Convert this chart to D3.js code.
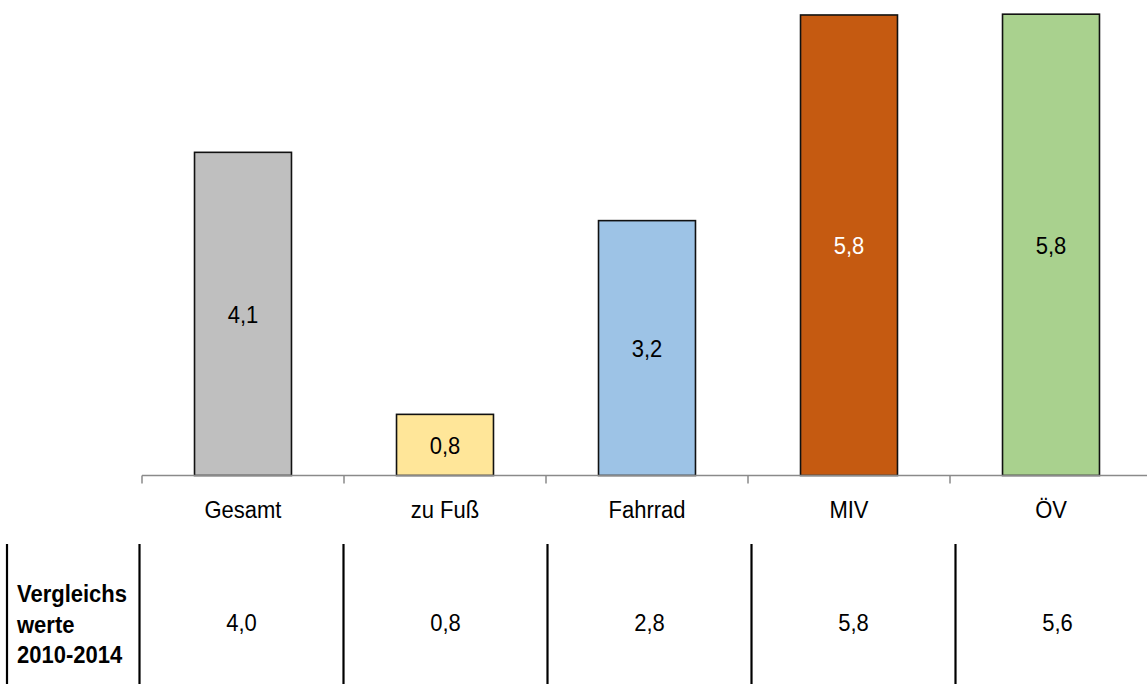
<!DOCTYPE html>
<html>
<head>
<meta charset="utf-8">
<script src="https://cdn.jsdelivr.net/npm/d3@7"></script>
<style>
  html, body { margin: 0; padding: 0; background: #fff; }
  svg { display: block; }
  text { font-family: "Liberation Sans", Arial, sans-serif; }
</style>
</head>
<body>
<svg id="chart" width="1147" height="684"></svg>
<script>
const categories = ["Gesamt", "zu Fuß", "Fahrrad", "MIV", "ÖV"];
const values = [4.07, 0.77, 3.21, 5.80, 5.81];
const barLabels = ["4,1", "0,8", "3,2", "5,8", "5,8"];
const barColors = ["#bfbfbf", "#ffe699", "#9dc3e6", "#c55a11", "#a9d18e"];
const labelColors = ["#000", "#000", "#000", "#fff", "#000"];
const compareTitle = ["Vergleichs", "werte", "2010-2014"];
const compareValues = ["4,0", "0,8", "2,8", "5,8", "5,6"];

const svg = d3.select("#chart");
const baseline = 475.5;
const unit = 79.4;
const sy = 1.1; // vertical stretch of text

const x = d3.scaleBand().domain(categories).range([142, 1152])
  .paddingInner(0.52).paddingOuter(0.26);
const y = d3.scaleLinear().domain([0, 6]).range([baseline, baseline - 6 * unit]);

// bars
svg.selectAll("rect.bar").data(categories).enter().append("rect")
  .attr("class", "bar")
  .attr("x", d => x(d))
  .attr("width", x.bandwidth())
  .attr("y", (d, i) => y(values[i]))
  .attr("height", (d, i) => y(0) - y(values[i]))
  .attr("fill", (d, i) => barColors[i])
  .attr("stroke", "#111")
  .attr("stroke-width", 1.6);

// bar labels
svg.selectAll("text.val").data(categories).enter().append("text")
  .attr("class", "val")
  .attr("transform", (d, i) => `translate(${x(d) + x.bandwidth() / 2},${(y(values[i]) + y(0)) / 2 + 9}) scale(1,${sy})`)
  .attr("text-anchor", "middle")
  .attr("font-size", 22)
  .attr("fill", (d, i) => labelColors[i])
  .text((d, i) => barLabels[i]);

// axis
const axisG = svg.append("g").attr("transform", `translate(0,${baseline})`);
axisG.append("line").attr("x1", 142).attr("x2", 1147).attr("y1", 0).attr("y2", 0)
  .attr("stroke", "#8a8a8a").attr("stroke-width", 1.5);
const step = x.step();
const bounds = d3.range(0, categories.length).map(i => 142 + i * step);
axisG.selectAll("line.tick").data(bounds).enter().append("line")
  .attr("class", "tick")
  .attr("x1", d => d).attr("x2", d => d).attr("y1", 0).attr("y2", 8)
  .attr("stroke", "#8a8a8a").attr("stroke-width", 1.5);
axisG.selectAll("text.cat").data(categories).enter().append("text")
  .attr("class", "cat")
  .attr("transform", d => `translate(${x(d) + x.bandwidth() / 2},${518 - baseline}) scale(1,${sy})`)
  .attr("text-anchor", "middle")
  .attr("font-size", 22)
  .attr("fill", "#000")
  .text(d => d);

// comparison table
const tx = d3.scaleBand().domain(categories).range([139.5, 139.5 + 5 * 204]);
const tableTop = 544, tableBottom = 684;
const lineXs = [7].concat(categories.map(c => tx(c)));
svg.selectAll("line.tline").data(lineXs).enter().append("line")
  .attr("class", "tline")
  .attr("x1", d => d).attr("x2", d => d)
  .attr("y1", tableTop).attr("y2", tableBottom)
  .attr("stroke", "#000").attr("stroke-width", 2.2);

svg.selectAll("text.title").data(compareTitle).enter().append("text")
  .attr("class", "title")
  .attr("transform", (d, i) => `translate(17,${602 + i * 30.5}) scale(1,${sy})`)
  .attr("font-size", 22).attr("font-weight", "bold").attr("fill", "#000")
  .text(d => d);

svg.selectAll("text.cmp").data(categories).enter().append("text")
  .attr("class", "cmp")
  .attr("transform", d => `translate(${tx(d) + tx.bandwidth() / 2},631) scale(1,${sy})`)
  .attr("text-anchor", "middle")
  .attr("font-size", 22)
  .attr("fill", "#000")
  .text((d, i) => compareValues[i]);
</script>
</body>
</html>
